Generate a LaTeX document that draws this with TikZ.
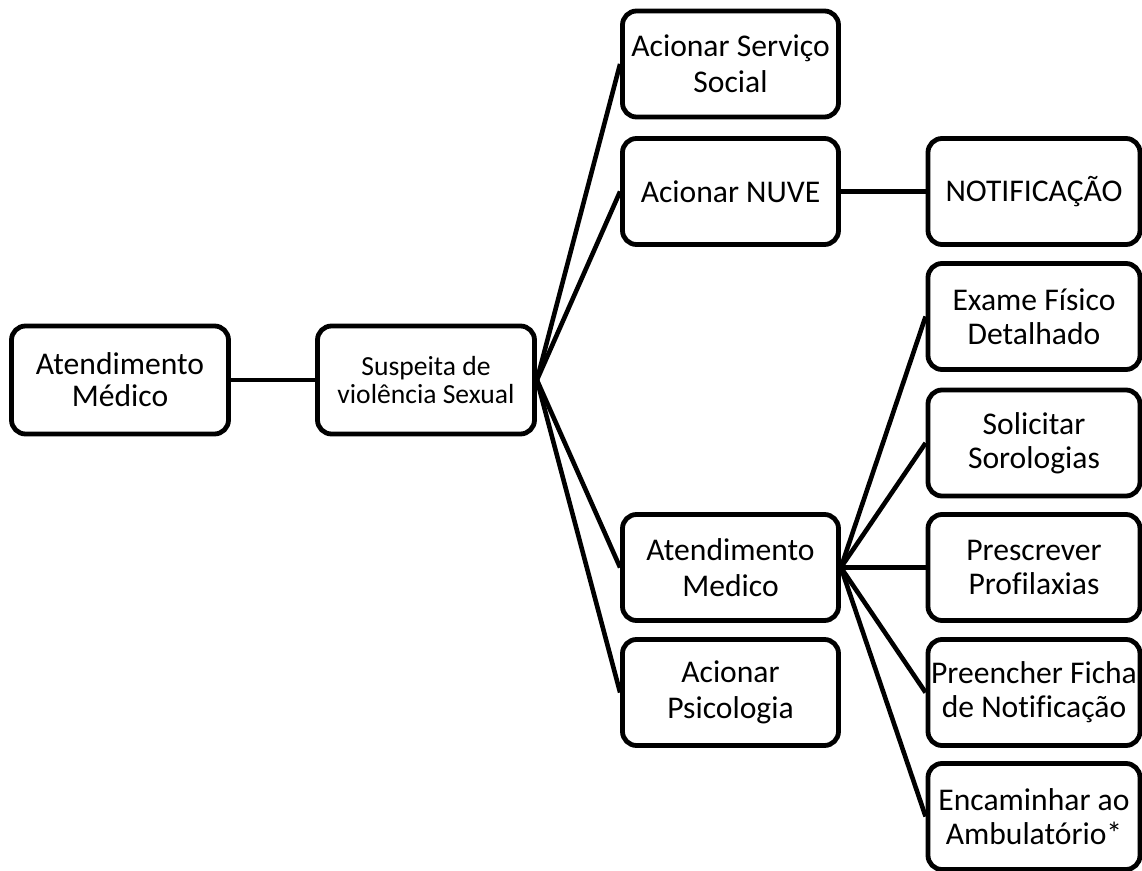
\documentclass[tikz,border=0pt]{standalone}
\usepackage{fontspec}
\setmainfont{Carlito}[Ligatures=NoCommon]
\usepackage{tikz}
\usetikzlibrary{positioning}
\tikzset{%
	box/.style     = {draw, rectangle, rounded corners=7pt, line width=2.4pt, minimum width=108pt, minimum height=53pt, inner sep=1pt, align=center},
	mainbox/.style = {box, minimum width=108.5pt, minimum height=54pt, font=\fontsize{15.8}{16}\selectfont},
	suspbox/.style = {box, minimum width=108.5pt, minimum height=54pt, font=\fontsize{13.8}{14}\selectfont},
	actbox/.style  = {box, font=\fontsize{15.8}{18}\selectfont},
	taskbox/.style = {box, minimum width=106pt, font=\fontsize{15.8}{17}\selectfont},
	link/.style    = {line width=2.3pt},
}
\begin{document}
\begin{tikzpicture}[x=0.5pt,y=-0.5pt]
		\useasboundingbox (0,0) rectangle (1142,871);
		
		\node[mainbox] (atend) at (120,380) {Atendimento\\Médico};
		\node[suspbox] (suspeita) at (426,380) {Suspeita de\\violência Sexual};
		
		\node[actbox] (social) at (730.5,64) {Acionar Serviço\\Social};  % column 3
		\node[actbox] (nuve) at (730.5,191.5) {Acionar NUVE};
		\node[actbox] (medico) at (730.5,567.5) {Atendimento\\Medico};
		\node[actbox] (psico) at (730.5,692.5) {Acionar\\Psicologia};
		
		\node[taskbox] (notif) at (1034,191.5) {NOTIFICAÇÃO};  % column 4
		\node[taskbox] (exame) at (1034,316.5) {Exame Físico\\Detalhado};
		\node[taskbox] (sorol) at (1034,443) {Solicitar\\Sorologias};
		\node[taskbox] (profil) at (1034,567.5) {Prescrever\\Profilaxias};
		\node[taskbox] (ficha) at (1034,692.5) {Preencher Ficha\\de Notificação};
		\node[taskbox] (ambul) at (1034,816.5) {Encaminhar ao\\Ambulatório*};
		
		\draw[link] (atend.east) -- (suspeita.west);
		\draw[link] (suspeita.east) -- (social.west);
		\draw[link] (suspeita.east) -- (nuve.west);
		\draw[link] (suspeita.east) -- (medico.west);
		\draw[link] (suspeita.east) -- (psico.west);
		\draw[link] (nuve.east) -- (notif.west);
		\draw[link] (medico.east) -- (exame.west);
		\draw[link] (medico.east) -- (sorol.west);
		\draw[link] (medico.east) -- (profil.west);
		\draw[link] (medico.east) -- (ficha.west);
		\draw[link] (medico.east) -- (ambul.west);
	\end{tikzpicture}
\end{document}
